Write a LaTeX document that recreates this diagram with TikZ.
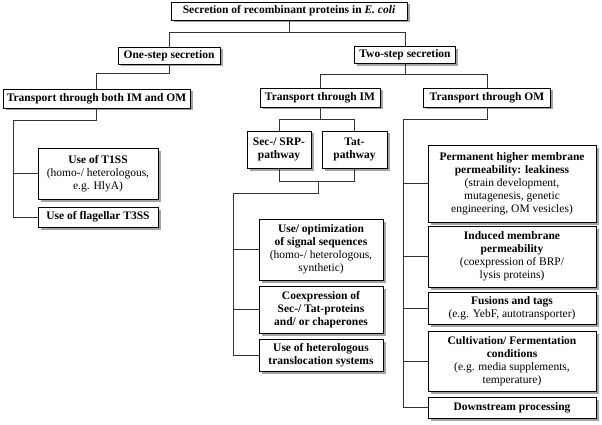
\documentclass[tikz,border=0pt]{standalone}
\usepackage{fontspec}
\setmainfont{Liberation Serif}
\usetikzlibrary{shadows}
\begin{document}
\begin{tikzpicture}[x=1pt,y=-1pt,
  box/.style={draw=black, line width=0.8pt, fill=white, align=center, inner sep=1pt,
    font=\fontsize{11.5}{13}\selectfont\bfseries,
    drop shadow={shadow xshift=2.5pt, shadow yshift=-2.5pt, fill=black!45, opacity=0.8}},
  conn/.style={draw=black!80, line width=0.8pt}]
\useasboundingbox (0,0) rectangle (602,425);
\node[box, minimum width=236pt, minimum height=18pt] (top) at (289,11) {Secretion of recombinant proteins in \textit{E. coli}};
\node[box, minimum width=102pt, minimum height=17pt] (one) at (169,55.5) {One-step secretion};
\node[box, minimum width=101pt, minimum height=17pt] (two) at (405,55) {Two-step secretion};
\node[box, minimum width=187pt, minimum height=19pt] (both) at (96.5,98.5) {Transport through both IM and OM};
\node[box, minimum width=120pt, minimum height=19pt] (im) at (320,97.5) {Transport through IM};
\node[box, minimum width=127pt, minimum height=19pt] (om) at (487,97.5) {Transport through OM};
\node[box, minimum width=64pt, minimum height=37pt] (sec) at (279,149.5) {Sec-/ SRP-\\pathway};
\node[box, minimum width=65pt, minimum height=37pt] (tat) at (354.5,149.5) {Tat-\\pathway};
\node[box, minimum width=120pt, minimum height=51pt] (t1ss) at (98,173.5) {Use of T1SS\\{\mdseries (homo-/ heterologous,}\\{\mdseries e.g. HlyA)}};
\node[box, minimum width=120pt, minimum height=20pt] (flag) at (98,217) {Use of flagellar T3SS};
\node[box, minimum width=124pt, minimum height=61pt] (useopt) at (321,249.5) {Use/ optimization\\of signal sequences\\{\mdseries (homo-/ heterologous,}\\{\mdseries synthetic)}};
\node[box, minimum width=124pt, minimum height=47pt] (coexp) at (321,309.5) {Coexpression of\\Sec-/ Tat-proteins\\and/ or chaperones};
\node[box, minimum width=124pt, minimum height=32pt] (hetero) at (321,355) {Use of heterologous\\translocation systems};
\node[box, minimum width=168pt, minimum height=77pt] (perm) at (512,183.5) {Permanent higher membrane\\permeability: leakiness\\{\mdseries (strain development,}\\{\mdseries mutagenesis, genetic}\\{\mdseries engineering, OM vesicles)}};
\node[box, minimum width=168pt, minimum height=61pt] (induced) at (512,256.5) {Induced membrane\\permeability\\{\mdseries (coexpression of BRP/}\\{\mdseries lysis proteins)}};
\node[box, minimum width=168pt, minimum height=32pt] (fusions) at (512,308) {Fusions and tags\\{\mdseries (e.g. YebF, autotransporter)}};
\node[box, minimum width=168pt, minimum height=60pt] (cult) at (512,361) {Cultivation/ Fermentation\\conditions\\{\mdseries (e.g. media supplements,}\\{\mdseries temperature)}};
\node[box, minimum width=168pt, minimum height=21pt] (down) at (512,407.5) {Downstream processing};
% connectors
\draw[conn] (top.south) -- ++(0,12) -| (one.north);
\draw[conn] (top.south) -- ++(0,12) -| (two.north);
\draw[conn] (one.south) -- ++(0,9) -| (both.north);
\draw[conn] (two.south) -- ++(0,10.5) -| (im.north);
\draw[conn] (two.south) -- ++(0,10.5) -| (om.north);
\coordinate (lb) at (13,120);
\draw[conn] (both.south) |- (lb) -- (lb |- flag.west) -- (flag.west);
\draw[conn] (lb |- t1ss.west) -- (t1ss.west);
\draw[conn] (im.south) -- ++(0,12) -| (sec.north);
\draw[conn] (im.south) -- ++(0,12) -| (tat.north);
\draw[conn] (sec.south) -- ++(0,13) -| (tat.south);
\coordinate (st) at (318,181);
\coordinate (lc) at (233,193);
\draw[conn] (st) |- (lc) -- (lc |- hetero.west) -- (hetero.west);
\draw[conn] (lc |- useopt.west) -- (useopt.west);
\draw[conn] (lc |- coexp.west) -- (coexp.west);
\coordinate (rc) at (403,119);
\draw[conn] (om.south) |- (rc) -- (rc |- down.west) -- (down.west);
\draw[conn] (rc |- perm.west) -- (perm.west);
\draw[conn] (rc |- induced.west) -- (induced.west);
\draw[conn] (rc |- fusions.west) -- (fusions.west);
\draw[conn] (rc |- cult.west) -- (cult.west);
\end{tikzpicture}
\end{document}
